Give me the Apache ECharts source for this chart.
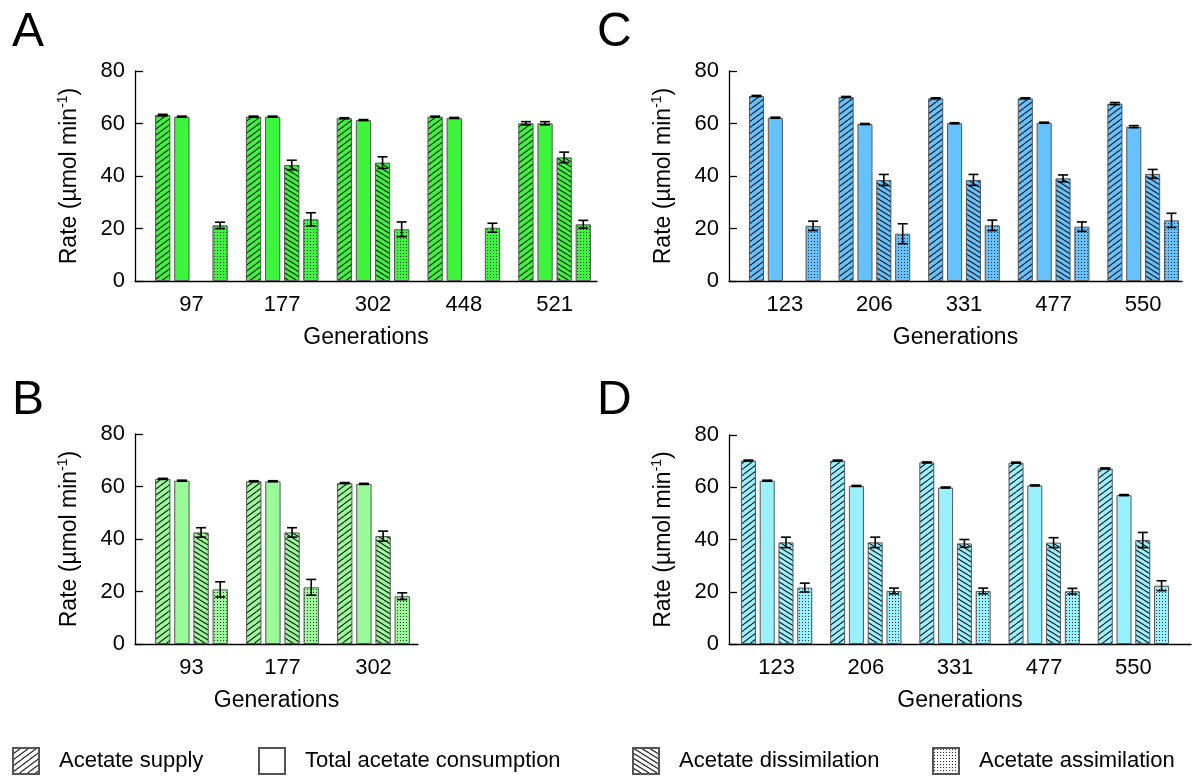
<!DOCTYPE html>
<html><head><meta charset="utf-8">
<script src="https://cdn.jsdelivr.net/npm/echarts@6/dist/echarts.min.js"></script>
<style>html,body{margin:0;padding:0;background:#fff}#chart{width:1199px;height:779px}</style>
</head><body><div id="chart"></div>
<script>
// ---------- DATA ----------
const seriesNames = ['Acetate supply', 'Total acetate consumption', 'Acetate dissimilation', 'Acetate assimilation'];

const catA = ['97', '177', '302', '448', '521'];
const supplyA = [63.2, 62.6, 62.0, 62.6, 60.1];
const supplyErrA = [0.3, 0.2, 0.2, 0.2, 0.6];
const totalA = [62.6, 62.6, 61.3, 62.1, 60.1];
const totalErrA = [0.2, 0.2, 0.2, 0.2, 0.6];
const dissimA = [null, 44.2, 45.1, null, 47.1];
const dissimErrA = [null, 1.8, 2.2, null, 2.0];
const assimA = [21.2, 23.5, 19.7, 20.3, 21.6];
const assimErrA = [1.2, 2.5, 2.8, 1.7, 1.5];

const catB = ['93', '177', '302'];
const supplyB = [62.9, 62.0, 61.3];
const supplyErrB = [0.2, 0.2, 0.2];
const totalB = [62.2, 62.0, 61.0];
const totalErrB = [0.2, 0.2, 0.2];
const dissimB = [42.5, 42.5, 41.1];
const dissimErrB = [1.8, 1.8, 1.9];
const assimB = [20.8, 21.6, 18.2];
const assimErrB = [2.9, 3.0, 1.3];

const catC = ['123', '206', '331', '477', '550'];
const supplyC = [70.5, 70.1, 69.6, 69.6, 67.6];
const supplyErrC = [0.2, 0.2, 0.2, 0.2, 0.4];
const totalC = [62.2, 59.8, 60.1, 60.3, 58.8];
const totalErrC = [0.2, 0.2, 0.2, 0.2, 0.4];
const dissimC = [null, 38.5, 38.5, 39.1, 40.8];
const dissimErrC = [null, 2.1, 2.1, 1.3, 1.7];
const assimC = [21.0, 18.0, 21.2, 20.7, 23.1];
const assimErrC = [1.8, 3.8, 2.0, 1.8, 2.7];

const catD = ['123', '206', '331', '477', '550'];
const supplyD = [70.2, 70.2, 69.5, 69.4, 67.2];
const supplyErrD = [0.2, 0.2, 0.2, 0.2, 0.2];
const totalD = [62.5, 60.5, 59.9, 60.7, 57.0];
const totalErrD = [0.2, 0.2, 0.2, 0.2, 0.2];
const dissimD = [38.9, 38.9, 38.5, 38.8, 39.8];
const dissimErrD = [2.0, 2.0, 1.5, 1.9, 2.9];
const assimD = [21.6, 20.3, 20.3, 20.2, 22.3];
const assimErrD = [1.7, 1.1, 1.1, 1.1, 1.9];

const yTicks = [0, 20, 40, 60, 80];

// ---------- STYLE ----------
const FONT = "'Liberation Sans', Arial, sans-serif";
const CAT_GAP = 0.2, BAR_GAP = 0.25, NBARS = 4;

function makePattern(kind, bg) {
  if (kind === 'solid') return bg;
  const c = document.createElement('canvas');
  let W, H;
  if (kind === 'dots') { W = 3; H = 3; } else if (kind === 'fwd') { W = 8; H = 6; } else { W = 8; H = 5; }
  c.width = W; c.height = H;
  const g = c.getContext('2d');
  g.fillStyle = bg; g.fillRect(0, 0, W, H);
  if (kind === 'dots') {
    g.fillStyle = '#2a2a2a';
    g.fillRect(1, 1, 1, 1);
  } else {
    g.strokeStyle = '#1a1a1a'; g.lineWidth = 1.1;
    for (let k = -1; k <= 1; k++) {
      g.beginPath();
      if (kind === 'fwd') { g.moveTo(0, H + k * H); g.lineTo(W, k * H); }
      else { g.moveTo(0, k * H); g.lineTo(W, H + k * H); }
      g.stroke();
    }
  }
  return { image: c, repeat: 'repeat' };
}
const kinds = ['fwd', 'solid', 'back', 'dots'];

function errRender(params, api) {
  const cat = api.value(0), val = api.value(1), err = api.value(2), bi = api.value(3);
  const catW = api.size([1, 0])[0];
  const barW = catW * (1 - CAT_GAP) / (NBARS + (NBARS - 1) * BAR_GAP);
  const total = barW * NBARS + barW * BAR_GAP * (NBARS - 1);
  const xOff = -total / 2 + barW / 2 + bi * barW * (1 + BAR_GAP);
  const top = api.coord([cat, val + err]);
  const bot = api.coord([cat, val - err]);
  const x = top[0] + xOff, hw = 5;
  const st = { stroke: '#000', lineWidth: 1.6 };
  return { type: 'group', children: [
    { type: 'line', shape: { x1: x, y1: top[1], x2: x, y2: bot[1] }, style: st },
    { type: 'line', shape: { x1: x - hw, y1: top[1], x2: x + hw, y2: top[1] }, style: st },
    { type: 'line', shape: { x1: x - hw, y1: bot[1], x2: x + hw, y2: bot[1] }, style: st }
  ]};
}

const panels = [
  { id: 'A', cats: catA, vals: [supplyA, totalA, dissimA, assimA], errs: [supplyErrA, totalErrA, dissimErrA, assimErrA],
    color: '#3cf53c', grid: { left: 146, top: 71, width: 454, height: 210 }, yOff: 11, axis: { left: 135, width: 462 },
    title: { left: 7, top: 4 } },
  { id: 'B', cats: catB, vals: [supplyB, totalB, dissimB, assimB], errs: [supplyErrB, totalErrB, dissimErrB, assimErrB],
    color: '#9afa9a', grid: { left: 146, top: 434, width: 273, height: 210 }, yOff: 11, axis: { left: 135, width: 283 },
    title: { left: 7, top: 372 } },
  { id: 'C', cats: catC, vals: [supplyC, totalC, dissimC, assimC], errs: [supplyErrC, totalErrC, dissimErrC, assimErrC],
    color: '#66c2ff', grid: { left: 740, top: 71, width: 448, height: 210 }, yOff: 11, axis: { left: 729, width: 453 },
    title: { left: 592, top: 4 } },
  { id: 'D', cats: catD, vals: [supplyD, totalD, dissimD, assimD], errs: [supplyErrD, totalErrD, dissimErrD, assimErrD],
    color: '#99f0ff', grid: { left: 732, top: 435, width: 446, height: 209 }, yOff: 3, axis: { left: 729, width: 462 },
    title: { left: 592, top: 372 } }
];

const grid = [], xAxis = [], yAxis = [], series = [], title = [];
panels.forEach((p, i) => {
  const gi = i * 2, ai = i * 2 + 1;
  grid.push({ left: p.grid.left, top: p.grid.top, width: p.grid.width, height: p.grid.height });
  grid.push({ left: p.axis.left, top: p.grid.top, width: p.axis.width, height: p.grid.height });
  xAxis.push({ gridIndex: gi, type: 'category', data: p.cats,
    axisLine: { show: false }, axisTick: { show: false },
    axisLabel: { fontSize: 22, color: '#000', margin: 13, fontFamily: FONT } });
  yAxis.push({ gridIndex: gi, type: 'value', min: yTicks[0], max: yTicks[yTicks.length - 1], interval: yTicks[1] - yTicks[0],
    offset: p.yOff,
    axisLine: { show: true, lineStyle: { color: '#000', width: 1.3 } },
    axisTick: { show: true, inside: true, length: 8, lineStyle: { color: '#000', width: 1.3 } },
    axisLabel: { fontSize: 22, color: '#000', margin: 10, fontFamily: FONT },
    splitLine: { show: false },
    name: 'Rate (µmol min{sup|-1})', nameLocation: 'middle', nameGap: 52,
    nameTextStyle: { fontSize: 23, color: '#000', fontFamily: FONT, lineHeight: 27,
      rich: { sup: { fontSize: 14, color: '#000', fontFamily: FONT, verticalAlign: 'top', lineHeight: 27 } } } });
  xAxis.push({ gridIndex: ai, type: 'value', min: 0, max: 1,
    axisLine: { show: true, onZero: false, lineStyle: { color: '#000', width: 1.3 } },
    axisTick: { show: false }, axisLabel: { show: false }, splitLine: { show: false },
    name: 'Generations', nameLocation: 'middle', nameGap: 45,
    nameTextStyle: { fontSize: 23, color: '#000', fontFamily: FONT } });
  yAxis.push({ gridIndex: ai, type: 'value', min: 0, max: 1, show: false });
  title.push({ text: p.id, left: p.title.left, top: p.title.top,
    textStyle: { fontSize: 48, fontWeight: 'normal', color: '#000', fontFamily: FONT } });

  p.vals.forEach((arr, k) => {
    series.push({ type: 'bar', name: p.id + ' ' + seriesNames[k], xAxisIndex: gi, yAxisIndex: gi,
      data: arr.map(v => (v == null ? '-' : v)),
      barCategoryGap: (CAT_GAP * 100) + '%', barGap: (BAR_GAP * 100) + '%',
      itemStyle: { color: makePattern(kinds[k], p.color), borderColor: '#555', borderWidth: 1 },
      emphasis: { disabled: true }, z: 2 });
  });
  const errData = [];
  p.vals.forEach((arr, k) => arr.forEach((v, c) => {
    if (v != null && p.errs[k][c] != null) errData.push([c, v, p.errs[k][c], k]);
  }));
  series.push({ type: 'custom', name: p.id + ' err', xAxisIndex: gi, yAxisIndex: gi,
    renderItem: errRender, data: errData, z: 5, silent: true });
});

// hidden grid hosting legend-only series (white patterned icons)
const hg = grid.length;
grid.push({ left: 0, top: 0, width: 1, height: 1, show: false });
xAxis.push({ gridIndex: hg, type: 'category', data: [''], show: false });
yAxis.push({ gridIndex: hg, type: 'value', show: false });
seriesNames.forEach((n, k) => {
  series.push({ type: 'bar', name: n, xAxisIndex: hg, yAxisIndex: hg, data: [],
    itemStyle: { color: makePattern(kinds[k], '#ffffff'), borderColor: '#555', borderWidth: 1 } });
});

const legendLefts = [12, 258, 632, 932];
const legend = seriesNames.map((n, k) => ({
  data: [n], left: legendLefts[k], top: 747, icon: 'rect', itemWidth: 26, itemHeight: 26,
  selectedMode: false, padding: 0,
  textStyle: { fontSize: 22, color: '#000', fontFamily: FONT, padding: [0, 0, 0, 15] }
}));

const chart = echarts.init(document.getElementById('chart'), null, { renderer: 'canvas' });
chart.setOption({
  backgroundColor: '#fff', animation: false,
  title, grid, xAxis, yAxis, series, legend,
  textStyle: { fontFamily: FONT }
});
</script>
</body></html>
